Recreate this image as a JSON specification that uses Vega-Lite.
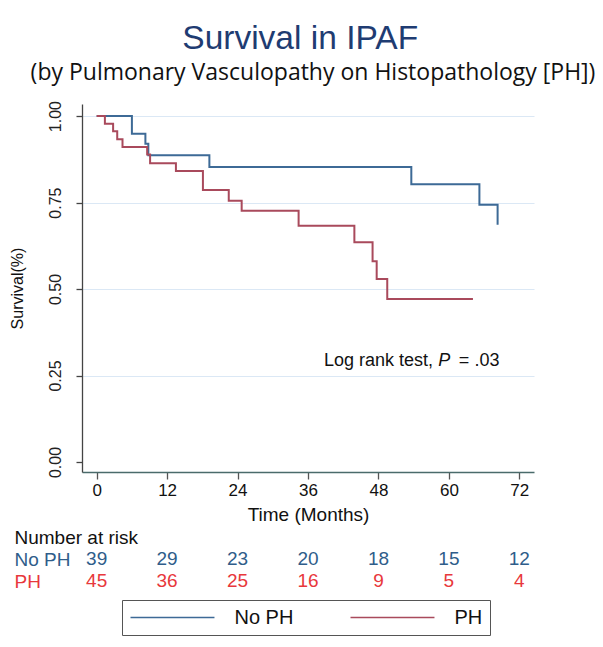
{
  "$schema": "https://vega.github.io/schema/vega-lite/v6.json",
  "background": "white",
  "padding": {"left": 9, "top": 22, "right": 5, "bottom": 5},
  "config": {"view": {"stroke": null}, "font": "Liberation Sans"},
  "title": {"text": "Survival in IPAF", "font": "Liberation Sans", "fontSize": 33.5, "fontWeight": "normal", "color": "#1f3c72", "anchor": "middle", "dx": -2, "offset": 5},
  "spacing": 2,
  "vconcat": [
    {
      "width": 452,
      "height": 368,
      "title": {"text": "(by Pulmonary Vasculopathy on Histopathology [PH])", "font": "Open Sans", "fontSize": 23, "fontWeight": "normal", "color": "#111111", "anchor": "middle", "dx": 5, "offset": 16},
      "layer": [
        {
          "data": {"values": [
            {"t": 0, "s": 1, "group": "No PH"},
            {"t": 6.0, "s": 0.949, "group": "No PH"},
            {"t": 8.3, "s": 0.920, "group": "No PH"},
            {"t": 8.8, "s": 0.887, "group": "No PH"},
            {"t": 19.2, "s": 0.853, "group": "No PH"},
            {"t": 53.6, "s": 0.803, "group": "No PH"},
            {"t": 65.2, "s": 0.744, "group": "No PH"},
            {"t": 68.3, "s": 0.686, "group": "No PH"},
            {"t": 0, "s": 1, "group": "PH"},
            {"t": 1.4, "s": 0.978, "group": "PH"},
            {"t": 2.8, "s": 0.956, "group": "PH"},
            {"t": 3.5, "s": 0.933, "group": "PH"},
            {"t": 4.4, "s": 0.911, "group": "PH"},
            {"t": 8.6, "s": 0.889, "group": "PH"},
            {"t": 9.1, "s": 0.864, "group": "PH"},
            {"t": 13.5, "s": 0.841, "group": "PH"},
            {"t": 18.1, "s": 0.786, "group": "PH"},
            {"t": 22.5, "s": 0.755, "group": "PH"},
            {"t": 24.7, "s": 0.726, "group": "PH"},
            {"t": 34.4, "s": 0.683, "group": "PH"},
            {"t": 43.9, "s": 0.635, "group": "PH"},
            {"t": 47.0, "s": 0.580, "group": "PH"},
            {"t": 47.7, "s": 0.529, "group": "PH"},
            {"t": 49.5, "s": 0.471, "group": "PH"},
            {"t": 64.1, "s": 0.471, "group": "PH"}
          ]},
          "mark": {"type": "line", "interpolate": "step-after", "strokeWidth": 2},
          "encoding": {
            "x": {"field": "t", "type": "quantitative",
              "scale": {"domain": [-2.5, 74.5], "nice": false, "zero": false},
              "axis": {"values": [0, 12, 24, 36, 48, 60, 72], "title": "Time (Months)", "grid": false,
                "labelFontSize": 17, "labelColor": "#111111", "labelPadding": 3, "labelFlush": false,
                "titleFontSize": 19, "titleFontWeight": "normal", "titleColor": "#111111", "titlePadding": 7,
                "domainColor": "#4a6b6b", "domainWidth": 1.3, "tickColor": "#555555", "tickSize": 7, "tickWidth": 1.3}},
            "y": {"field": "s", "type": "quantitative",
              "scale": {"domain": [-0.029, 1.035], "nice": false, "zero": false},
              "axis": {"values": [0, 0.25, 0.5, 0.75, 1], "format": ".2f", "title": "Survival(%)",
                "labelAngle": -90, "labelAlign": "center", "labelBaseline": "bottom", "labelPadding": 13,
                "labelFontSize": 16, "labelColor": "#222222",
                "titleFontSize": 16, "titleFontWeight": "normal", "titleColor": "#111111", "titlePadding": 22,
                "grid": true, "gridColor": "#dbe8f5", "gridWidth": 1.2,
                "gridOpacity": {"condition": {"test": "datum.value === 0", "value": 0}, "value": 1},
                "domainColor": "#444444", "domainWidth": 1.3, "tickColor": "#444444", "tickSize": 6, "tickWidth": 1.3}},
            "color": {"field": "group", "type": "nominal",
              "scale": {"domain": ["No PH", "PH"], "range": ["#3d6a96", "#a94a5c"]},
              "legend": {"title": null, "orient": "none", "legendX": 40, "legendY": 496, "direction": "horizontal",
                "symbolType": "M-1,0H8.33", "symbolSize": 324, "symbolStrokeWidth": 1.5,
                "labelFontSize": 20, "labelColor": "#111111", "labelOffset": 85, "columnPadding": 54,
                "strokeColor": "#555555", "fillColor": "white", "padding": 7.5}}
          }
        },
        {
          "data": {"values": [{"t": 57.3, "s": 0.292, "txt": "Log rank test,"}]},
          "mark": {"type": "text", "align": "right", "baseline": "middle", "fontSize": 18, "color": "#111111"},
          "encoding": {"x": {"field": "t", "type": "quantitative"}, "y": {"field": "s", "type": "quantitative"}, "text": {"field": "txt"}}
        },
        {
          "data": {"values": [{"t": 58.2, "s": 0.292, "txt": "P"}]},
          "mark": {"type": "text", "align": "left", "baseline": "middle", "fontSize": 18, "fontStyle": "italic", "color": "#111111"},
          "encoding": {"x": {"field": "t", "type": "quantitative"}, "y": {"field": "s", "type": "quantitative"}, "text": {"field": "txt"}}
        },
        {
          "data": {"values": [{"t": 61.7, "s": 0.292, "txt": "= .03"}]},
          "mark": {"type": "text", "align": "left", "baseline": "middle", "fontSize": 18, "color": "#111111"},
          "encoding": {"x": {"field": "t", "type": "quantitative"}, "y": {"field": "s", "type": "quantitative"}, "text": {"field": "txt"}}
        }
      ]
    },
    {
      "width": 452,
      "height": 66,
      "data": {"values": [
        {"t": 0, "group": "No PH", "n": 39},
        {"t": 12, "group": "No PH", "n": 29},
        {"t": 24, "group": "No PH", "n": 23},
        {"t": 36, "group": "No PH", "n": 20},
        {"t": 48, "group": "No PH", "n": 18},
        {"t": 60, "group": "No PH", "n": 15},
        {"t": 72, "group": "No PH", "n": 12},
        {"t": 0, "group": "PH", "n": 45},
        {"t": 12, "group": "PH", "n": 36},
        {"t": 24, "group": "PH", "n": 25},
        {"t": 36, "group": "PH", "n": 16},
        {"t": 48, "group": "PH", "n": 9},
        {"t": 60, "group": "PH", "n": 5},
        {"t": 72, "group": "PH", "n": 4}
      ]},
      "mark": {"type": "text", "fontSize": 19, "baseline": "middle"},
      "encoding": {
        "x": {"field": "t", "type": "quantitative", "scale": {"domain": [-2.5, 74.5], "nice": false, "zero": false}, "axis": null},
        "y": {"field": "group", "type": "nominal", "scale": {"domain": ["Number at risk", "No PH", "PH"]},
          "axis": {"title": null, "domain": false, "ticks": false, "grid": false, "labelAlign": "left", "labelPadding": 68,
            "labelFontSize": 19, "labelBaseline": "middle",
            "labelColor": {"condition": [{"test": "datum.value === 'PH'", "value": "#e8383c"}, {"test": "datum.value === 'No PH'", "value": "#2f5d8a"}], "value": "#111111"}}},
        "text": {"field": "n", "type": "quantitative"},
        "color": {"condition": {"test": "datum.group === 'PH'", "value": "#e8383c"}, "value": "#2f5d8a"}
      }
    }
  ]
}
